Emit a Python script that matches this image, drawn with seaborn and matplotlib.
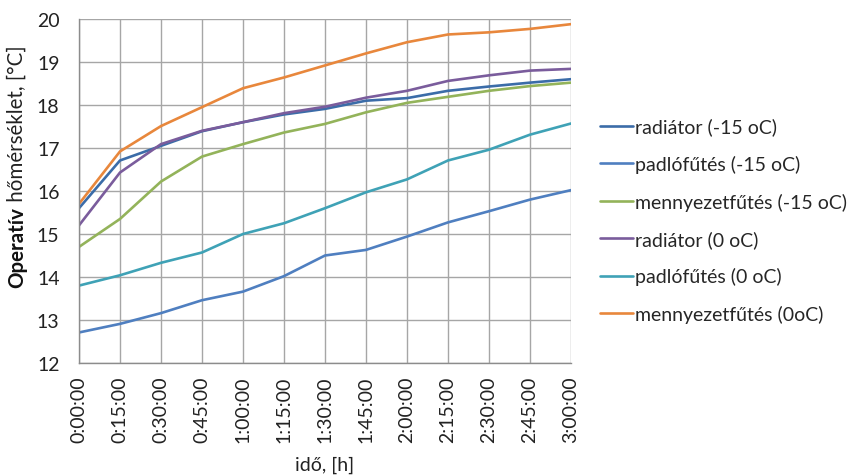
import matplotlib
matplotlib.use("Agg")
import matplotlib.pyplot as plt
import seaborn as sns
import pandas as pd

times = ["0:00:00", "0:15:00", "0:30:00", "0:45:00", "1:00:00", "1:15:00", "1:30:00",
         "1:45:00", "2:00:00", "2:15:00", "2:30:00", "2:45:00", "3:00:00"]

radiator_m15 = [15.60, 16.71, 17.05, 17.39, 17.60, 17.78, 17.91, 18.10, 18.16, 18.33, 18.43, 18.52, 18.60]
padlo_m15 = [12.71, 12.91, 13.16, 13.46, 13.66, 14.02, 14.50, 14.63, 14.94, 15.27, 15.53, 15.80, 16.02]
mennyezet_m15 = [14.70, 15.35, 16.22, 16.80, 17.09, 17.36, 17.56, 17.83, 18.05, 18.19, 18.33, 18.44, 18.52]
radiator_0 = [15.20, 16.43, 17.09, 17.40, 17.60, 17.81, 17.96, 18.17, 18.33, 18.56, 18.69, 18.80, 18.84]
padlo_0 = [13.80, 14.04, 14.33, 14.57, 15.00, 15.25, 15.60, 15.97, 16.27, 16.71, 16.96, 17.31, 17.57]
mennyezet_0 = [15.70, 16.92, 17.51, 17.95, 18.39, 18.64, 18.92, 19.20, 19.46, 19.64, 19.69, 19.77, 19.88]

series_names = ["radiátor (-15 oC)", "padlófűtés (-15 oC)", "mennyezetfűtés (-15 oC)",
                "radiátor (0 oC)", "padlófűtés (0 oC)", "mennyezetfűtés (0oC)"]
series_values = [radiator_m15, padlo_m15, mennyezet_m15, radiator_0, padlo_0, mennyezet_0]
colors = ["#3B6CA8", "#4F7FC0", "#93B35A", "#7A5C9C", "#3FA2B6", "#E8873C"]

rows = []
for name, vals in zip(series_names, series_values):
    for i, (t, v) in enumerate(zip(times, vals)):
        rows.append({"idx": i, "time": t, "series": name, "value": v})
df = pd.DataFrame(rows)

sns.set_style("white")
plt.rcParams["font.family"] = ["Lato", "DejaVu Sans"]

FS = 14

fig = plt.figure(figsize=(8.59, 4.77), dpi=100)
ax = fig.add_axes([79 / 859, 1 - 364 / 477, (571 - 79) / 859, (364 - 20) / 477])

sns.lineplot(data=df, x="idx", y="value", hue="series", hue_order=series_names,
             palette=dict(zip(series_names, colors)), linewidth=1.9, ax=ax,
             sort=False, estimator=None)

ax.set_xlim(0, len(times) - 1)
ax.set_ylim(12, 20)
ax.set_xticks(range(len(times)))
ax.set_xticklabels(times, rotation=90, fontsize=FS, color="#222222")
ax.set_yticks(range(12, 21))
ax.tick_params(axis="y", labelsize=FS, colors="#222222", length=0, pad=14)
ax.tick_params(axis="x", length=0, pad=9)
ax.grid(True, color="#A6A6A6", linewidth=1.0)
ax.set_axisbelow(True)
for side in ["left", "bottom", "right", "top"]:
    ax.spines[side].set_color("#8C8C8C")
    ax.spines[side].set_linewidth(1.0)
ax.spines["right"].set_visible(False)
ax.spines["top"].set_visible(False)

ax.set_xlabel("idő, [h]", fontsize=FS, color="#222222", labelpad=10)
ax.set_ylabel("")

# y-axis title with a bold first word
t1 = fig.text(17 / 859, 1 - 288 / 477, "Operatív", rotation=90, fontsize=14.8,
              fontweight="bold", ha="center", va="bottom", color="#111111")
ax.annotate(" hőmérséklet, [°C]", xy=(0.5, 1.0), xycoords=t1, rotation=90,
            fontsize=14.8, ha="center", va="bottom", color="#222222",
            annotation_clip=False)

handles, labels = ax.get_legend_handles_labels()
leg = ax.legend(handles, labels, loc="center left", bbox_to_anchor=(1.044, 0.415),
                frameon=False, fontsize=FS, handlelength=1.65, handletextpad=0.15,
                labelspacing=1.0, borderaxespad=0)
for line in leg.get_lines():
    line.set_linewidth(1.9)

fig.savefig("out.png", dpi=100)
